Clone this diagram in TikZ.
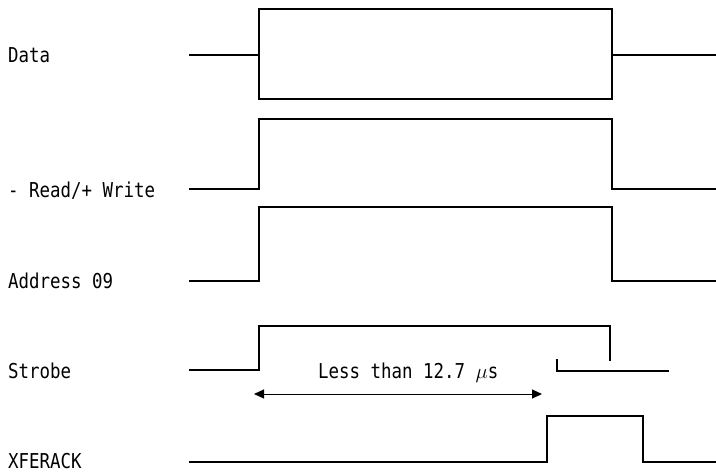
\documentclass[tikz,border=0pt]{standalone}
\usepackage{fontspec}
\setmonofont{DejaVu Sans Mono}[FakeStretch=0.85]
\usetikzlibrary{arrows.meta}

\begin{document}
\begin{tikzpicture}[
    x=1pt, y=-1pt,
    wave/.style={line width=1.1pt, line join=miter},
    siglabel/.style={anchor=west, inner sep=0pt, text height=14.9pt, text depth=0pt,
        font=\ttfamily\fontsize{20.5}{24}\selectfont},
    span/.style={{Triangle[length=10pt,width=9pt]}-{Triangle[length=10pt,width=9pt]}, line width=1pt}
]
\useasboundingbox (0,0) rectangle (716,474);
% signal names
\node[siglabel] (data) at (8,55) {Data};
\node[siglabel] (rw) at (8,190) {- Read/+ Write};
\node[siglabel] (addr) at (8,281.5) {Address 09};
\node[siglabel] (strobe) at (8,371) {Strobe};
\node[siglabel] (xfer) at (8,461.5) {XFERACK};
% waveforms
\draw[wave] (189,55) -- (259,55);
\draw[wave] (259,9) rectangle (612,99);
\draw[wave] (612,55) -- (716,55);
\draw[wave] (189,189) -- (259,189) -- (259,119) -- (612,119) -- (612,189) -- (716,189);
\draw[wave] (189,281) -- (259,281) -- (259,207) -- (612,207) -- (612,281) -- (716,281);
\draw[wave] (189,370) -- (259,370) -- (259,326) -- (610,326) -- (610,361);
\draw[wave] (557,359) -- (557,371) -- (669,371);
\draw[wave] (189,462) -- (547,462) -- (547,416) -- (643,416) -- (643,462) -- (716,462);
% strobe width
\coordinate (spanL) at (254,394);
\coordinate (spanR) at (542,394);
\draw[span] (spanL) -- (spanR);
\node[siglabel] (lessthan) at (318,371.5) {Less than 12.7 $\mu$s};
\end{tikzpicture}
\end{document}
